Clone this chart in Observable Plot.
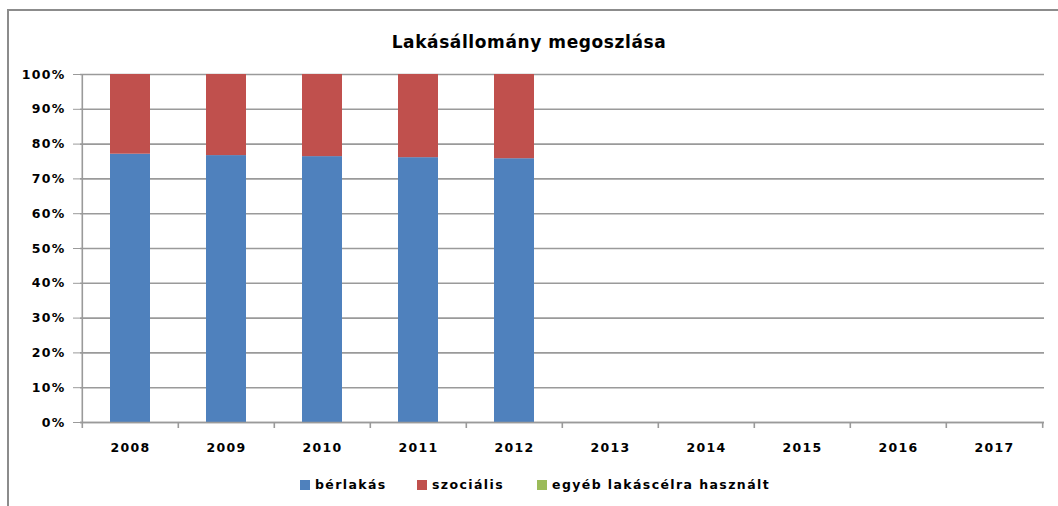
<!DOCTYPE html>
<html>
<head>
<meta charset="utf-8">
<script src="https://cdn.jsdelivr.net/npm/d3@7"></script>
<script src="https://cdn.jsdelivr.net/npm/@observablehq/plot@0.6"></script>
<style>
  html, body { margin: 0; padding: 0; background: #fff; }
  #wrap { position: relative; width: 1058px; height: 506px; overflow: hidden; font-family: "DejaVu Sans", sans-serif; }
  #frame { position: absolute; left: 7px; top: 9px; width: 1060px; height: 520px; border-left: 2px solid #8c8c8c; border-top: 2px solid #8c8c8c; }
  #title { position: absolute; left: 0; width: 1058px; top: 32px; text-align: center; font-weight: bold; font-size: 17px; letter-spacing: 0.6px; color: #000; }
  #chart { position: absolute; left: 0; top: 50px; }
  #legend { position: absolute; top: 477px; left: 0; width: 1058px; height: 16px; font-size: 12.5px; font-weight: bold; }
  .item { position: absolute; top: 0; display: flex; align-items: center; white-space: nowrap; letter-spacing: 1.4px; }
  .sw { width: 10px; height: 10px; margin-right: 5px; }
  #chart svg text { letter-spacing: 1.3px; }
</style>
</head>
<body>
<div id="wrap">
  <div id="frame"></div>
  <div id="title">Lakásállomány megoszlása</div>
  <div id="chart"></div>
  <div id="legend"></div>
</div>
<script>
const years = ["2008","2009","2010","2011","2012","2013","2014","2015","2016","2017"];
const seriesNames = ["bérlakás", "szociális", "egyéb lakáscélra használt"];
const seriesColors = ["#4F81BD", "#C0504D", "#9BBB59"];
const berlakas  = [77.1, 76.7, 76.4, 76.1, 75.8];
const szocialis = [22.9, 23.3, 23.6, 23.9, 24.2];
const egyeb     = [0, 0, 0, 0, 0];
const yTicks = [0, 0.1, 0.2, 0.3, 0.4, 0.5, 0.6, 0.7, 0.8, 0.9, 1.0];

const rows = [];
[berlakas, szocialis, egyeb].forEach((arr, si) => {
  arr.forEach((v, i) => rows.push({year: years[i], series: seriesNames[si], value: v / 100}));
});

const W = 1058, H = 410, mL = 80, mR = 14, mT = 24, mB = 38;
const step = (W - mL - mR) / years.length;

const plot = Plot.plot({
  width: W, height: H,
  marginLeft: mL, marginRight: mR, marginTop: mT, marginBottom: mB,
  style: { fontFamily: "DejaVu Sans, sans-serif", fontSize: "12.5px", fontWeight: "bold", color: "#000", background: "transparent" },
  x: { domain: years, paddingInner: 0.585, paddingOuter: 0.2925, label: null },
  y: { domain: [0, 1], label: null },
  color: { domain: seriesNames, range: seriesColors },
  marks: [
    Plot.gridY(yTicks, { stroke: "#9a9a9a", strokeOpacity: 1, strokeWidth: 1.6 }),
    Plot.barY(rows, Plot.stackY({ x: "year", y: "value", fill: "series", order: seriesNames })),
    Plot.ruleX([years[0]], { dx: -step / 2, stroke: "#9a9a9a", strokeWidth: 1.6 }),
    Plot.ruleY([0], { stroke: "#9a9a9a", strokeWidth: 1.6 }),
    Plot.axisY(yTicks, { tickFormat: d => Math.round(d * 100) + "%", tickSize: 7, tickPadding: 8, stroke: "#9a9a9a", fontWeight: "bold", fontSize: 12.5, fill: "#000" }),
    Plot.axisX({ tickSize: 6, text: null, dx: -step / 2, stroke: "#9a9a9a", strokeWidth: 1.6 }),
    Plot.ruleX([years[years.length - 1]], { dx: step / 2, y1: 0, y2: -0.017, stroke: "#9a9a9a", strokeWidth: 1.6 }),
    Plot.axisX({ tickSize: 0, tickPadding: 21, fontWeight: "bold", fontSize: 12.5, fill: "#000" })
  ]
});
document.getElementById("chart").appendChild(plot);

const legend = document.getElementById("legend");
const lx = [300, 417, 537];
seriesNames.forEach((n, i) => {
  const it = document.createElement("div");
  it.className = "item";
  it.style.left = lx[i] + "px";
  it.innerHTML = `<span class="sw" style="background:${seriesColors[i]}"></span><span>${n}</span>`;
  legend.appendChild(it);
});
</script>
</body>
</html>
